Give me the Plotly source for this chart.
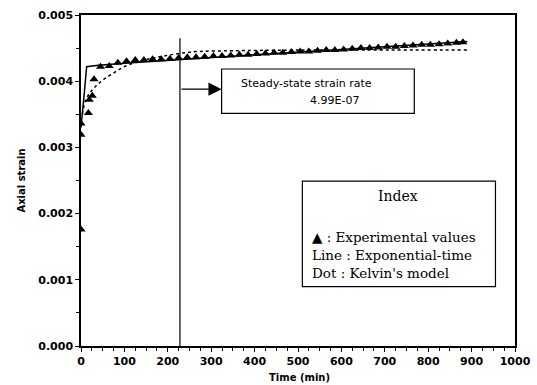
import plotly.graph_objects as go

# Experimental values (time in min, axial strain)
exp_time = [0, 0, 0, 17, 19, 26, 30,
            45, 65, 85, 105, 125, 145, 165, 185, 205, 225, 245, 265, 285, 305,
            325, 345, 365, 385, 405, 425, 445, 465, 485, 505, 525, 545, 565,
            585, 605, 625, 645, 665, 685, 705, 725, 745, 765, 785, 805, 825,
            845, 865, 880]
exp_strain = [0.00176, 0.00319, 0.00336, 0.00352, 0.00372, 0.00378, 0.00403,
              0.00422, 0.00423, 0.00428, 0.00430, 0.00432, 0.00432, 0.00433,
              0.00433, 0.00434, 0.00435, 0.00436, 0.00436, 0.00437, 0.00438,
              0.00438, 0.00439, 0.00440, 0.00440, 0.00441, 0.00442, 0.00443,
              0.00443, 0.00444, 0.00445, 0.00445, 0.00446, 0.00447, 0.00447,
              0.00448, 0.00449, 0.00450, 0.00450, 0.00451, 0.00452, 0.00452,
              0.00453, 0.00454, 0.00455, 0.00455, 0.00456, 0.00457,
              0.00458, 0.00459]

# Exponential-time model (solid line)
line_time = [0, 4, 8, 13, 40, 100, 228, 400, 600, 890]
line_strain = [0.00330, 0.00355, 0.00385, 0.00422, 0.00424, 0.00427,
               0.00433, 0.00440, 0.00448, 0.00460]

# Kelvin's model (dotted line)
dot_time = [3, 10, 20, 35, 51, 74, 97, 128, 174, 228, 274, 350, 500, 890]
dot_strain = [0.00350, 0.00370, 0.00382, 0.00393, 0.00402, 0.00412, 0.00421,
              0.00429, 0.00436, 0.00442, 0.00445, 0.00446, 0.00447, 0.00447]

x_ticks = [0, 100, 200, 300, 400, 500, 600, 700, 800, 900, 1000]
y_ticks = [0.000, 0.001, 0.002, 0.003, 0.004, 0.005]

x_title = "Time (min)"
y_title = "Axial strain"
marker_time = 228
rate_text = "4.99E-07"

fig = go.Figure()
fig.add_trace(go.Scatter(x=line_time, y=line_strain, mode="lines",
                         line=dict(color="black", width=1.5), showlegend=False))
fig.add_trace(go.Scatter(x=dot_time, y=dot_strain, mode="lines",
                         line=dict(color="black", width=1.5, dash="dot"),
                         line_shape="spline", showlegend=False))
fig.add_trace(go.Scatter(x=exp_time, y=exp_strain, mode="markers",
                         marker=dict(symbol="triangle-up", size=8, color="black"),
                         showlegend=False))

tickfont = dict(family="DejaVu Sans", size=11, color="black", weight="bold")
axis_common = dict(showline=True, linecolor="black", linewidth=1.5, mirror=True,
                   ticks="outside", tickcolor="black", tickwidth=1.2, ticklen=4,
                   showgrid=False, zeroline=False, tickfont=tickfont, automargin=False)

fig.update_xaxes(range=[0, 1000], tickvals=x_ticks,
                 ticktext=[str(v) for v in x_ticks],
                 minor=dict(dtick=25, ticks="outside", ticklen=3, tickcolor="black"),
                 **axis_common)
fig.update_yaxes(range=[0, 0.005], tickvals=y_ticks,
                 ticktext=["%.3f" % v for v in y_ticks],
                 minor=dict(dtick=0.0005, ticks="outside", ticklen=3, tickcolor="black"),
                 **axis_common)

shapes = [
    dict(type="line", xref="x", yref="y", x0=marker_time, x1=marker_time, y0=0, y1=0.00465,
         line=dict(color="black", width=1.2)),
    dict(type="rect", xref="x", yref="y", x0=324, x1=768, y0=0.003515, y1=0.004184,
         line=dict(color="black", width=1.2), fillcolor="white"),
    dict(type="rect", xref="x", yref="y", x0=510, x1=955, y0=0.000896, y1=0.00249,
         line=dict(color="black", width=1.2), fillcolor="white"),
]
fig.update_layout(shapes=shapes)

tfont = dict(family="DejaVu Sans", size=10, color="black", weight="bold")
ann = []
ann.append(dict(x=0.5046, y=-0.094, xref="paper", yref="paper", xanchor="center",
                yanchor="middle", text=x_title, showarrow=False, font=tfont))
ann.append(dict(x=-0.138, y=0.50, xref="paper", yref="paper", xanchor="center",
                yanchor="middle", text=y_title, textangle=-90, showarrow=False, font=tfont))
ann.append(dict(x=324, y=0.00388, xref="x", yref="y", ax=marker_time, ay=0.00388,
                axref="x", ayref="y", showarrow=True, arrowhead=2, arrowsize=2.2,
                arrowwidth=1.2, arrowcolor="black", text=""))
sfont = dict(family="DejaVu Sans", size=11, color="black")
ann.append(dict(x=364, y=0.003958, xref="x", yref="y", xanchor="left", yanchor="middle",
                text="Steady-state strain rate", showarrow=False, font=sfont))
ann.append(dict(x=523, y=0.003716, xref="x", yref="y", xanchor="left", yanchor="middle",
                text=rate_text, showarrow=False, font=sfont))
ifont = dict(family="DejaVu Serif", size=13.5, color="black")
ann.append(dict(x=730, y=0.002266, xref="x", yref="y", xanchor="center", yanchor="middle",
                text="Index", showarrow=False, font=dict(family="DejaVu Serif", size=14, color="black")))
for yy, t in [(0.001640, "▲ : Experimental values"),
              (0.001375, "Line : Exponential-time"),
              (0.001100, "Dot : Kelvin's model")]:
    ann.append(dict(x=528, y=yy, xref="x", yref="y", xanchor="left", yanchor="middle",
                    text=t, showarrow=False, font=ifont))
fig.update_layout(annotations=ann)

fig.update_layout(width=537, height=385, margin=dict(l=81, r=22, t=15, b=39),
                  paper_bgcolor="white", plot_bgcolor="white")
fig.write_html("out.html")
